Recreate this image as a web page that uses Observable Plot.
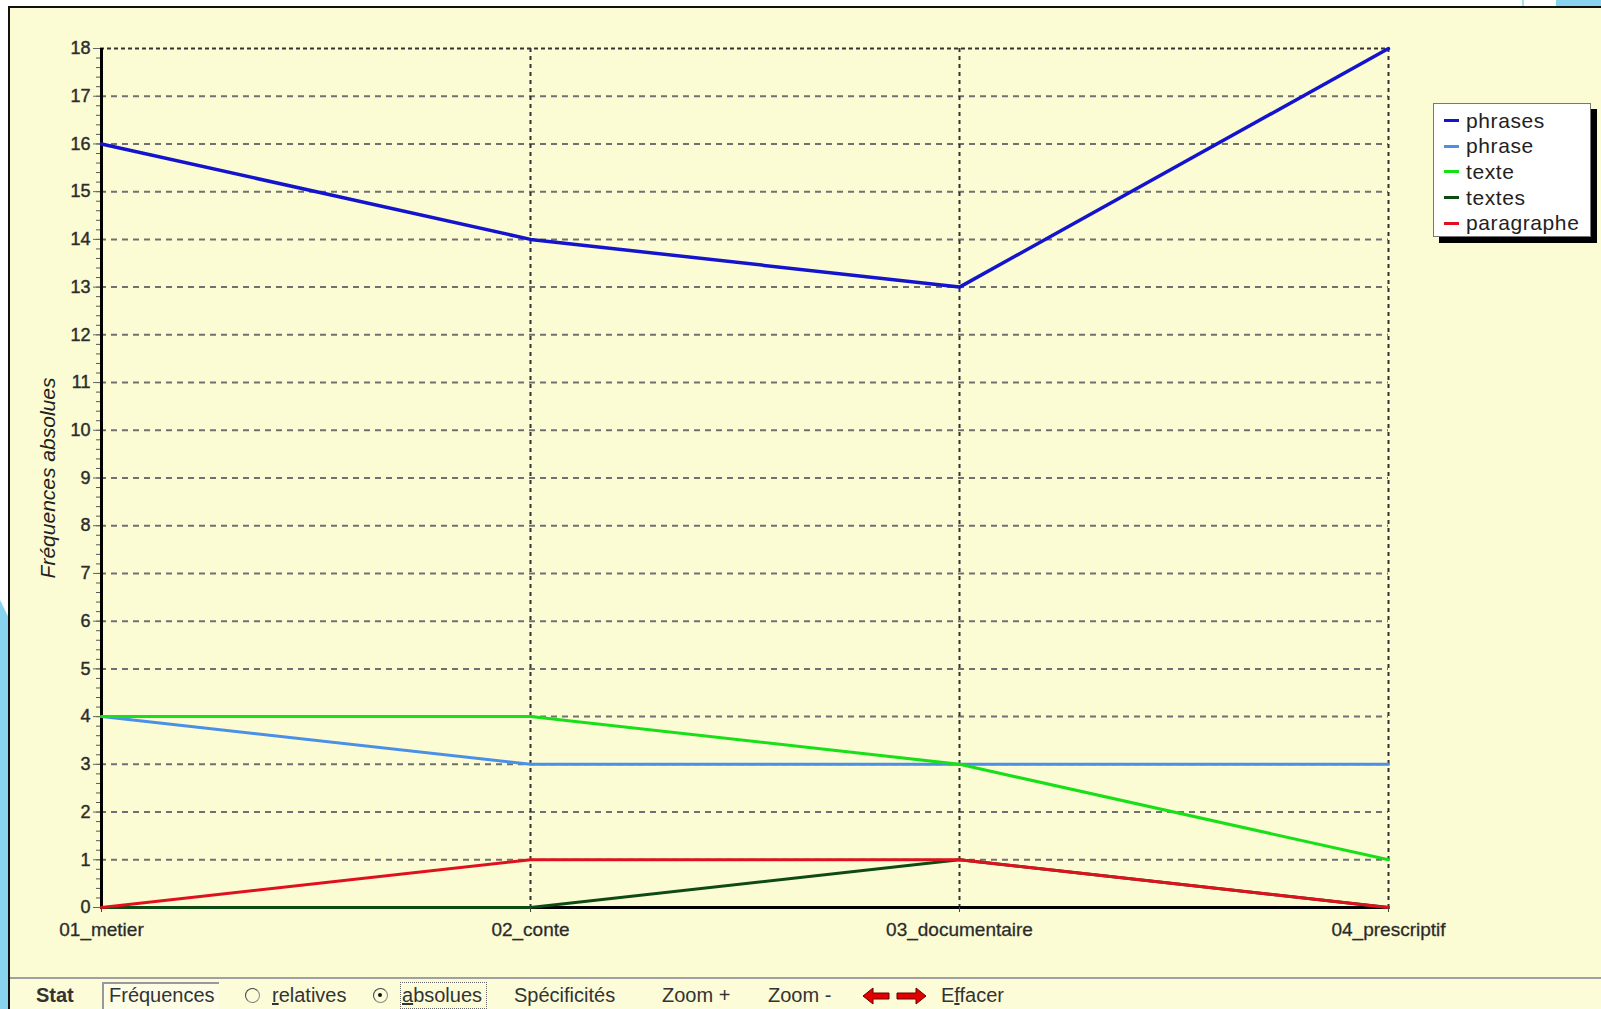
<!DOCTYPE html>
<html>
<head>
<meta charset="utf-8">
<script src="https://cdn.jsdelivr.net/npm/d3@7"></script>
<script src="https://cdn.jsdelivr.net/npm/@observablehq/plot@0.6"></script>
<style>
  html, body { margin: 0; padding: 0; background: #ffffff; width: 1601px; height: 1009px; overflow: hidden; font-family: "Liberation Sans", Arial, sans-serif; }
  #frame { position: absolute; left: 8px; top: 6px; width: 1593px; height: 1003px; background: #fcfcd4; border-left: 2px solid #111; border-top: 2px solid #111; box-sizing: border-box; }
  #leftblue { position: absolute; left: 0; top: 600px; width: 8px; height: 409px; background: #8ad3ee; clip-path: polygon(0 0, 100% 4%, 100% 100%, 0 100%); }
  #topblue { position: absolute; left: 1556px; top: 0; width: 45px; height: 6px; background: #8ad3ee; }
  #topblue2 { position: absolute; left: 1522px; top: 0; width: 2px; height: 6px; background: #a8dcef; }
  #chart { position: absolute; left: 0; top: 0; }
  #chart svg { background: transparent !important; overflow: visible; }
  #chart g[aria-label="y-axis label"] text { font-style: italic; font-size: 21px; fill: #222; }
  #chart g[aria-label="y-axis tick label"] text { stroke: #333; stroke-width: 0.45px; }
  #chart g[aria-label="x-axis tick label"] text { stroke: #333; stroke-width: 0.3px; }
  #legend { position: absolute; left: 1433px; top: 103px; width: 158px; height: 134px; background: #fff; border: 1px solid #777; box-shadow: 6px 6px 0 #000; box-sizing: border-box; padding-top: 4px; }
  .li { height: 25.6px; display: flex; align-items: center; font-size: 21px; letter-spacing: 0.6px; color: #222; white-space: nowrap; }
  .li span.sw { display: inline-block; width: 15px; height: 3px; margin-left: 10px; margin-right: 7px; }
  #toolbar { position: absolute; left: 10px; top: 977px; width: 1591px; height: 32px; border-top: 2px solid #a0a0a0; background: #fcfcd8; font-size: 20px; color: #333; }
  #toolbar .t { position: absolute; top: 5px; }
  #freq { position: absolute; left: 92px; top: 3px; width: 117px; height: 27px; border-left: 2px solid #999; border-top: 2px solid #999; background: #fdfde6; box-sizing: border-box; }
  .radio { position: absolute; top: 9px; width: 15px; height: 15px; border-radius: 50%; border: 1.5px solid #888; border-left-color: #444; border-top-color: #444; box-sizing: border-box; background: #fcfcd8; }
  .radio.on::after { content: ""; position: absolute; left: 4px; top: 4px; width: 4px; height: 4px; border-radius: 50%; background: #111; }
  #focus { position: absolute; left: 390px; top: 3px; width: 87px; height: 27px; border: 1px dotted #666; box-sizing: border-box; }
</style>
</head>
<body>
<div id="frame"></div>
<div id="leftblue"></div>
<div id="topblue"></div>
<div id="topblue2"></div>
<div id="chart"></div>
<div id="legend"></div>
<div id="toolbar">
  <div class="t" style="left:26px;font-weight:bold;">Stat</div>
  <div id="freq"></div>
  <div class="t" style="left:99px;">Fréquences</div>
  <div class="radio" style="left:235px;"></div>
  <div class="t" style="left:262px;"><u>r</u>elatives</div>
  <div class="radio on" style="left:363px;"></div>
  <div id="focus"></div>
  <div class="t" style="left:392px;"><u>a</u>bsolues</div>
  <div class="t" style="left:504px;">Spécificités</div>
  <div class="t" style="left:652px;">Zoom +</div>
  <div class="t" style="left:758px;">Zoom -</div>
  <svg style="position:absolute;left:853px;top:8px" width="64" height="18" viewBox="0 0 64 18">
    <polygon points="0,9 10,1 10,6 26,6 26,12 10,12 10,17" fill="#e00000" stroke="#600" stroke-width="1"/>
    <polygon points="63,9 53,1 53,6 34,6 34,12 53,12 53,17" fill="#e00000" stroke="#600" stroke-width="1"/>
  </svg>
  <div class="t" style="left:931px;">E<u>f</u>facer</div>
</div>
<script>
const categories = ["01_metier", "02_conte", "03_documentaire", "04_prescriptif"];
const seriesNames = ["phrases", "phrase", "texte", "textes", "paragraphe"];
const seriesColors = ["#1414cc", "#4a90e6", "#18e018", "#0e4a14", "#e0101c"];
const phrases = [16, 14, 13, 18];
const phrase = [4, 3, 3, 3];
const texte = [4, 4, 3, 1];
const textes = [0, 0, 1, 0];
const paragraphe = [0, 1, 1, 0];
const yTicks = d3.range(0, 19);

const seriesValues = [phrases, phrase, texte, textes, paragraphe];
const rows = [];
seriesNames.forEach((name, i) => {
  categories.forEach((c, j) => rows.push({series: name, cat: c, value: seriesValues[i][j]}));
});

const lineMarks = seriesNames.map((name, i) =>
  Plot.line(rows.filter(d => d.series === name), {
    x: "cat", y: "value", stroke: seriesColors[i], strokeWidth: i === 0 ? 3.5 : 3, curve: "linear"
  })
);

const chart = Plot.plot({
  width: 1601,
  height: 960,
  marginLeft: 100,
  marginRight: 213,
  marginTop: 48,
  marginBottom: 53,
  style: { fontFamily: "Liberation Sans, Arial, sans-serif", background: "transparent", color: "#222" },
  x: { type: "point", domain: categories, padding: 0 },
  y: { domain: [0, 18] },
  marks: [
    Plot.gridY(yTicks.slice(1, 18), { stroke: "#707070", strokeOpacity: 1, strokeWidth: 2, strokeDasharray: "6,5" }),
    Plot.gridY([18], { stroke: "#333", strokeOpacity: 1, strokeWidth: 2, strokeDasharray: "4,3" }),
    Plot.gridX(categories.slice(1), { stroke: "#333", strokeOpacity: 1, strokeWidth: 2, strokeDasharray: "4,4" }),
    Plot.axisY(d3.range(0, 18.001, 0.2), { tickSize: 4, stroke: "#555", text: null, label: null }),
    Plot.axisY(yTicks, {
      tickSize: 7, tickPadding: 3, stroke: "#666", fontSize: 18, fill: "#2a2a2a",
      label: "Fréquences absolues", labelAnchor: "center", labelArrow: "none", labelOffset: 60
    }),
    Plot.ruleX([categories[0]], { stroke: "#000", strokeWidth: 3 }),
    Plot.ruleY([0], { stroke: "#000", strokeWidth: 3 }),
    ...lineMarks,
    Plot.axisX({ tickSize: 5, tickPadding: 10, stroke: "#444", fontSize: 19, fill: "#2a2a2a", label: null })
  ]
});
document.getElementById("chart").appendChild(chart);

const legend = document.getElementById("legend");
seriesNames.forEach((name, i) => {
  const row = document.createElement("div");
  row.className = "li";
  row.innerHTML = `<span class="sw" style="background:${seriesColors[i]}"></span>${name}`;
  legend.appendChild(row);
});
</script>
</body>
</html>
